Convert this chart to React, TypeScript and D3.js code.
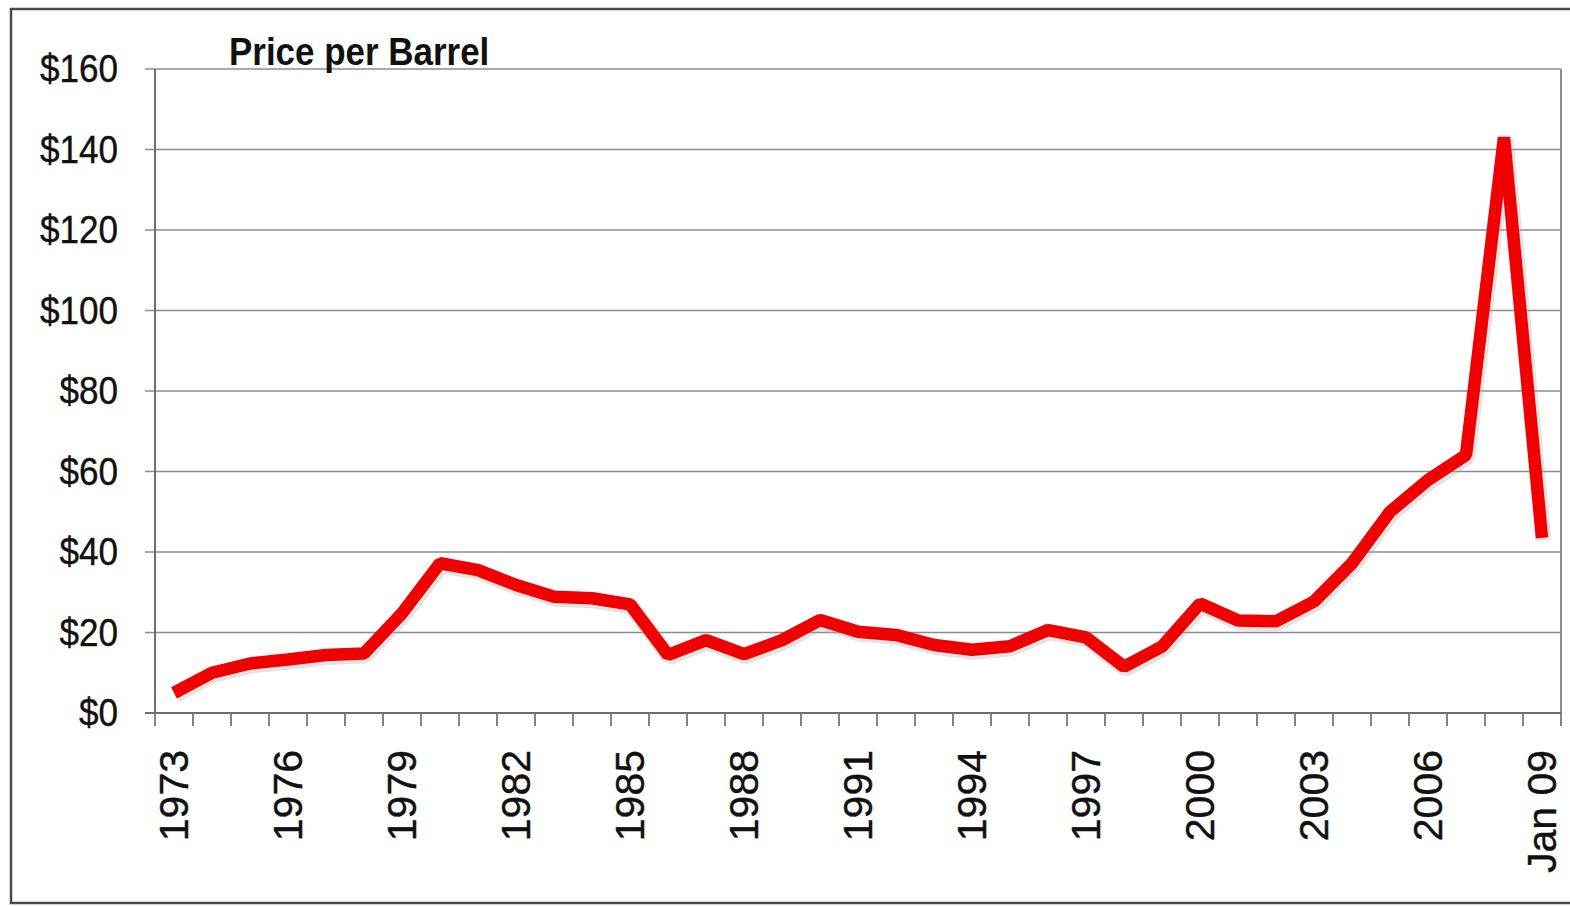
import React from "react";
import * as d3 from "d3";

const years: string[] = [
  "1973", "1974", "1975", "1976", "1977", "1978", "1979", "1980", "1981", "1982",
  "1983", "1984", "1985", "1986", "1987", "1988", "1989", "1990", "1991", "1992",
  "1993", "1994", "1995", "1996", "1997", "1998", "1999", "2000", "2001", "2002",
  "2003", "2004", "2005", "2006", "2007", "2008", "Jan 09",
];

const prices: number[] = [
  5, 10, 12.3, 13.3, 14.4, 14.8, 24.8, 37.2, 35.5, 31.8,
  28.9, 28.5, 27, 14.4, 18.1, 14.6, 18.1, 23.1, 20.2, 19.4,
  16.9, 15.7, 16.6, 20.6, 18.8, 11.5, 16.5, 27.2, 23, 22.8,
  27.7, 37.2, 50, 57.9, 64.1, 143, 43.5,
];

const yTicks: number[] = [0, 20, 40, 60, 80, 100, 120, 140, 160];
const labelYears: string[] = years.filter((_, i) => i % 3 === 0);
const chartTitle = "Price per Barrel";

export default function App() {
  const W = 1570;
  const H = 906;
  const left = 155;
  const right = 1561;
  const top = 69;
  const bottom = 713;

  const x = d3.scaleBand<string>().domain(years).range([left, right]);
  const y = d3.scaleLinear().domain([0, 160]).range([bottom, top]);

  const line = d3
    .line<number>()
    .x((_, i) => (x(years[i]) as number) + x.bandwidth() / 2)
    .y((d) => y(d));

  const path = line(prices) || "";
  const font = "'Liberation Sans', Arial, sans-serif";
  const boundaries = years.map((yr) => x(yr) as number).concat([right]);

  return (
    <svg
      width={W}
      height={H}
      style={{ position: "absolute", left: 0, top: 0, background: "#fff" }}
    >
      <rect x={0} y={0} width={W} height={H} fill="#fff" />
      {/* outer frame */}
      <rect x={11} y={9} width={W + 20} height={894} fill="none" stroke="#4a4a4a" strokeWidth={2.5} />

      {/* gridlines */}
      {yTicks.map((t) => (
        <line key={t} x1={left - 10} x2={right} y1={y(t)} y2={y(t)} stroke="#8c8c8c" strokeWidth={1.6} />
      ))}
      {/* plot area right border */}
      <line x1={right} x2={right} y1={top} y2={bottom} stroke="#8c8c8c" strokeWidth={2} />
      {/* left axis */}
      <line x1={left} x2={left} y1={top} y2={bottom} stroke="#6e6e6e" strokeWidth={2} />
      {/* bottom axis */}
      <line x1={left - 10} x2={right} y1={bottom} y2={bottom} stroke="#6e6e6e" strokeWidth={2.2} />
      {boundaries.map((bx, i) => (
        <line key={i} x1={bx} x2={bx} y1={bottom} y2={bottom + 13} stroke="#777" strokeWidth={1.8} />
      ))}

      {/* y labels */}
      {yTicks.map((t) => (
        <text
          key={t}
          transform={`translate(118, ${y(t) + 13}) scale(0.9, 1)`}
          textAnchor="end"
          fontFamily={font}
          fontSize={39}
          fill="#111"
          stroke="#111"
          strokeWidth={0.4}
        >
          {`$${t}`}
        </text>
      ))}

      {/* x labels */}
      {labelYears.map((yr) => {
        const cx = (x(yr) as number) + x.bandwidth() / 2;
        return (
          <text
            key={yr}
            transform={`translate(${cx + 14}, 750) rotate(-90)`}
            textAnchor="end"
            fontFamily={font}
            fontSize={41}
            fill="#111"
            stroke="#111"
            strokeWidth={0.4}
          >
            {yr}
          </text>
        );
      })}

      {/* title */}
      <text
        transform={`translate(229, 65) scale(0.92, 1)`}
        fontFamily={font}
        fontWeight="bold"
        fontSize={38}
        fill="#111"
      >
        {chartTitle}
      </text>

      {/* shadow */}
      <path
        d={path}
        fill="none"
        stroke="#b0b0b0"
        strokeOpacity={0.35}
        strokeWidth={16}
        strokeLinejoin="bevel"
        transform="translate(1.5, 2)"
      />
      {/* series line */}
      <path
        d={path}
        fill="none"
        stroke="#f00000"
        strokeWidth={12.5}
        strokeLinejoin="bevel"
        strokeLinecap="butt"
      />
    </svg>
  );
}
